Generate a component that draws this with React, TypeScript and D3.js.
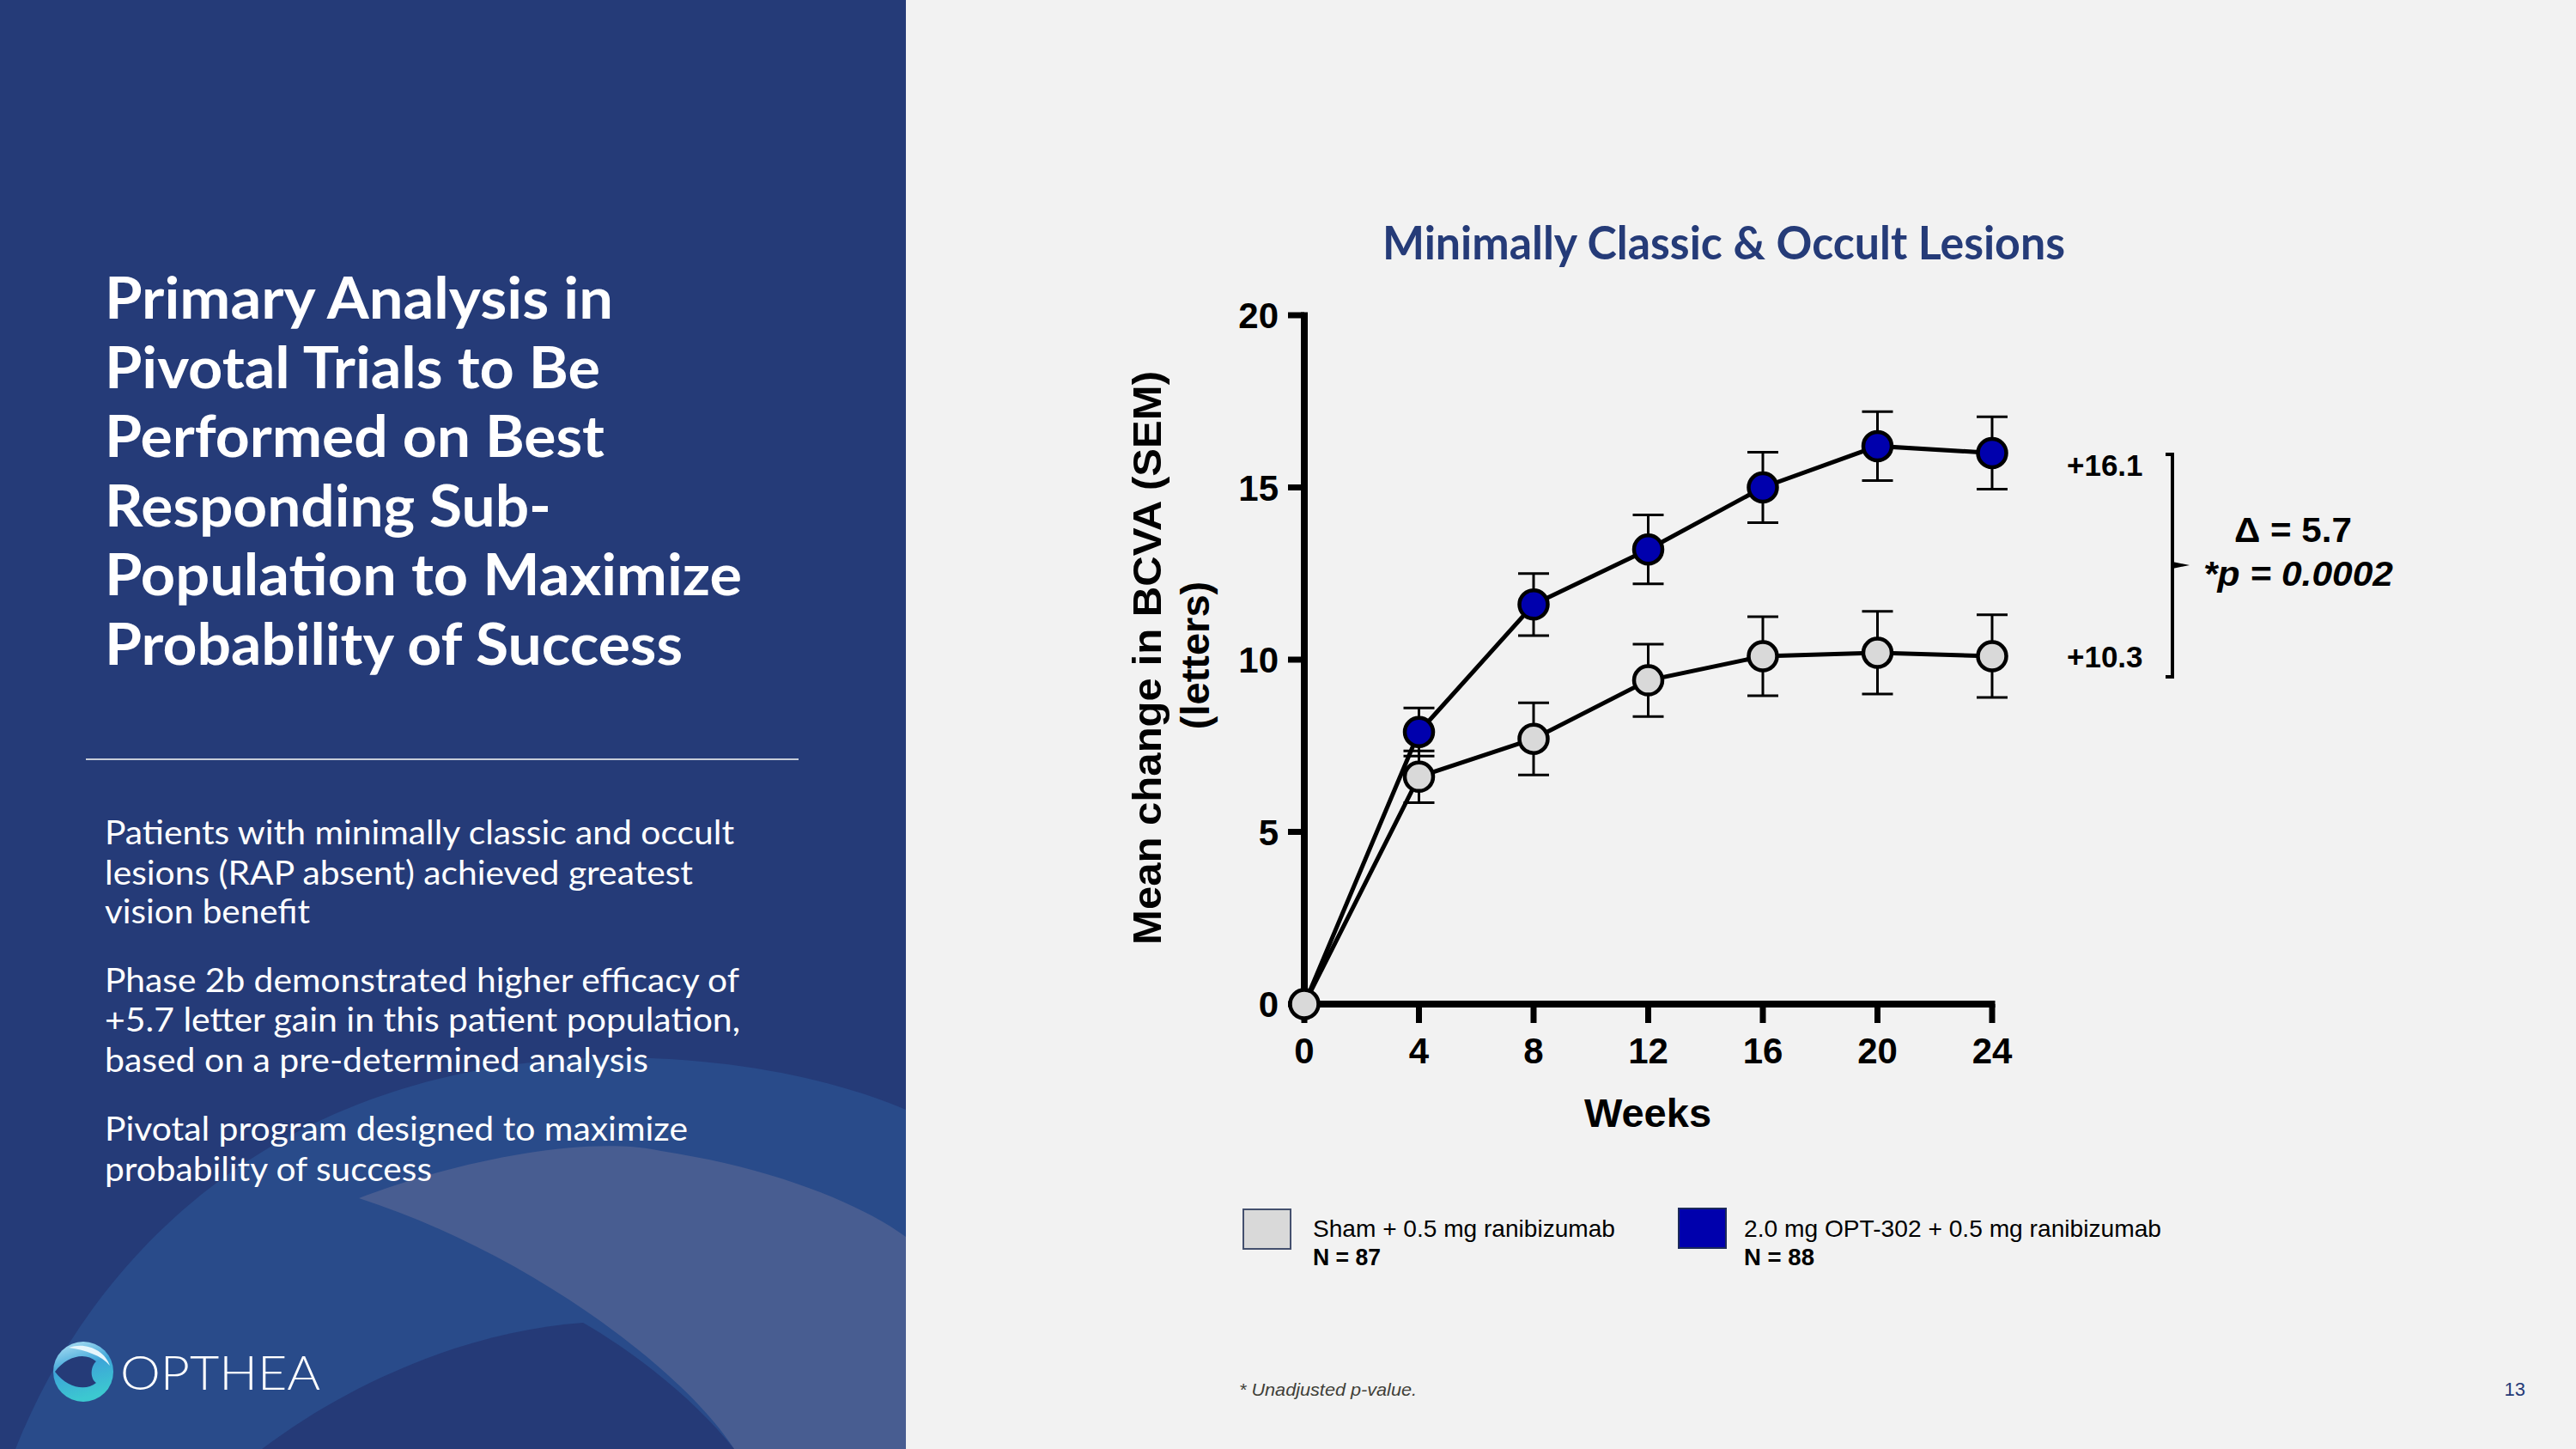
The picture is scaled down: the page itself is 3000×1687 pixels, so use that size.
import React from "react";
import * as d3 from "d3";

// ---- Data ----
const weeks = [0, 4, 8, 12, 16, 20, 24];
const shamMean = [0, 6.6, 7.7, 9.4, 10.1, 10.2, 10.1];
const shamSem = [0, 0.75, 1.05, 1.05, 1.15, 1.2, 1.2];
const optMean = [0, 7.9, 11.6, 13.2, 15.0, 16.2, 16.0];
const optSem = [0, 0.7, 0.9, 1.0, 1.02, 1.0, 1.05];
const yTicks = [0, 5, 10, 15, 20];
const xTicks = [0, 4, 8, 12, 16, 20, 24];
const finalLabels = ["+16.1", "+10.3"];
const seriesNames = ["Sham + 0.5 mg ranibizumab", "2.0 mg OPT-302 + 0.5 mg ranibizumab"];
const seriesN = ["N = 87", "N = 88"];

const titleLines = [
  "Primary Analysis in",
  "Pivotal Trials to Be",
  "Performed on Best",
  "Responding Sub-",
  "Population to Maximize",
  "Probability of Success",
];
const titleWidths = [592, 577, 582, 520, 742, 673];
const bodyLines = [
  "Patients with minimally classic and occult",
  "lesions (RAP absent) achieved greatest",
  "vision benefit",
  "Phase 2b demonstrated higher efficacy of",
  "+5.7 letter gain in this patient population,",
  "based on a pre-determined analysis",
  "Pivotal program designed to maximize",
  "probability of success",
];
const bodyBaselines = [983, 1030, 1075, 1155, 1201, 1248, 1328, 1375];
const bodyWidths = [733, 685, 239, 739, 740, 633, 679, 381];

const NAVY = "#253B78";
const BLUE = "#0000AD";
const GRAY = "#D9D9D9";

export default function App() {
  const x = d3.scaleLinear().domain([0, 24]).range([1519, 2320]);
  const y = d3.scaleLinear().domain([0, 20]).range([1169, 367]);

  const sham = weeks.map((w, i) => ({ w, m: shamMean[i], s: shamSem[i] }));
  const opt = weeks.map((w, i) => ({ w, m: optMean[i], s: optSem[i] }));
  const line = d3
    .line<{ w: number; m: number }>()
    .x((d) => x(d.w))
    .y((d) => y(d.m));

  const errBars = (data: { w: number; m: number; s: number }[], key: string) =>
    data
      .filter((d) => d.s > 0)
      .map((d, i) => (
        <g key={key + i} stroke="#000" strokeWidth={3}>
          <line x1={x(d.w)} x2={x(d.w)} y1={y(d.m + d.s)} y2={y(d.m - d.s)} />
          <line x1={x(d.w) - 18} x2={x(d.w) + 18} y1={y(d.m + d.s)} y2={y(d.m + d.s)} />
          <line x1={x(d.w) - 18} x2={x(d.w) + 18} y1={y(d.m - d.s)} y2={y(d.m - d.s)} />
        </g>
      ));

  const arial = "'Liberation Sans', Arial, Helvetica, sans-serif";
  const narrow = "'Liberation Sans Narrow', 'Arial Narrow', 'Liberation Sans', Arial, sans-serif";
  const cal = "Lato, 'Open Sans', 'Noto Sans', sans-serif";

  return (
    <svg
      width={3000}
      height={1687}
      viewBox="0 0 3000 1687"
      style={{ position: "absolute", left: 0, top: 0, display: "block" }}
    >
      <defs>
        <linearGradient id="logoGrad" x1="0" y1="0" x2="0.3" y2="1">
          <stop offset="0" stopColor="#B9E6F7" />
          <stop offset="0.5" stopColor="#3DA5D8" />
          <stop offset="1" stopColor="#3CC8D0" />
        </linearGradient>
      </defs>
      {/* Backgrounds */}
      <rect x={0} y={0} width={3000} height={1687} fill="#F2F2F2" />
      <rect x={0} y={0} width={1055} height={1687} fill={NAVY} />
      <path d="M 18,1687 C 100,1480 300,1250 680,1232 C 850,1226 980,1260 1055,1292 L 1055,1687 Z" fill="#294B8A" />
      <path d="M 418,1395 C 520,1355 680,1320 770,1340 C 900,1360 1000,1400 1055,1440 L 1055,1687 L 855,1687 C 800,1600 620,1460 418,1395 Z" fill="#485D91" />
      <path d="M 305,1687 C 420,1600 560,1548 679,1540 C 740,1575 810,1630 855,1687 Z" fill="#253A77" />

      {/* Left title */}
      {titleLines.map((t, i) => (
        <text
          key={"t" + i}
          x={122}
          y={371 + i * 80.5}
          fill="#FFFFFF"
          fontFamily={cal}
          fontWeight={700}
          fontSize={66}
          textLength={titleWidths[i]}
          lengthAdjust="spacingAndGlyphs"
        >
          {t}
        </text>
      ))}
      <line x1={100} x2={930} y1={884} y2={884} stroke="#C8CDD8" strokeWidth={2} />
      {bodyLines.map((t, i) => (
        <text
          key={"b" + i}
          x={122}
          y={bodyBaselines[i]}
          fill="#FFFFFF"
          fontFamily={cal}
          fontSize={38}
          textLength={bodyWidths[i]}
          lengthAdjust="spacingAndGlyphs"
        >
          {t}
        </text>
      ))}

      {/* Logo */}
      <g>
        <circle cx={97} cy={1597} r={35} fill="url(#logoGrad)" />
        <path d="M 64,1597 C 78,1578 100,1574 112,1585 C 106,1590 104,1604 112,1610 C 100,1620 78,1616 64,1597 Z" fill={NAVY} />
        <path d="M 80,1569 C 100,1562 122,1572 128,1590 C 118,1578 100,1572 80,1569 Z" fill="#E6F6FC" />
        <text
          x={140}
          y={1618}
          fill="#FFFFFF"
          fontFamily="Lato, 'Open Sans', sans-serif"
          fontWeight={300}
          fontSize={56}
          textLength={233}
          lengthAdjust="spacingAndGlyphs"
        >
          OPTHEA
        </text>
      </g>

      {/* Chart title */}
      <text
        x={1610}
        y={302}
        fill={NAVY}
        fontFamily={cal}
        fontWeight={700}
        fontSize={54}
        textLength={795}
        lengthAdjust="spacingAndGlyphs"
      >
        Minimally Classic &amp; Occult Lesions
      </text>

      {/* Axes */}
      <g stroke="#000">
        <line x1={x(0)} x2={x(0)} y1={y(20) - 3.5} y2={y(0) + 4} strokeWidth={8} />
        <line x1={x(0) - 4} x2={x(24) + 3.5} y1={y(0)} y2={y(0)} strokeWidth={8} />
        {yTicks.map((t) => (
          <line key={"yt" + t} x1={x(0) - 19} x2={x(0)} y1={y(t)} y2={y(t)} strokeWidth={7} />
        ))}
        {xTicks.map((t) => (
          <line key={"xt" + t} x1={x(t)} x2={x(t)} y1={y(0)} y2={y(0) + 22} strokeWidth={7} />
        ))}
      </g>
      {yTicks.map((t) => (
        <text
          key={"yl" + t}
          x={1489}
          y={y(t) + 15}
          textAnchor="end"
          fontFamily={arial}
          fontWeight={700}
          fontSize={42}
          fill="#000"
        >
          {t}
        </text>
      ))}
      {xTicks.map((t) => (
        <text
          key={"xl" + t}
          x={x(t)}
          y={1238}
          textAnchor="middle"
          fontFamily={arial}
          fontWeight={700}
          fontSize={42}
          fill="#000"
        >
          {t}
        </text>
      ))}
      <text x={1919} y={1312} textAnchor="middle" fontFamily={arial} fontWeight={700} fontSize={47} fill="#000">
        Weeks
      </text>
      <text
        transform="translate(1352,766) rotate(-90)"
        textAnchor="middle"
        fontFamily={arial}
        fontWeight={700}
        fontSize={47}
        fill="#000"
        textLength={668}
        lengthAdjust="spacingAndGlyphs"
      >
        Mean change in BCVA (SEM)
      </text>
      <text
        transform="translate(1408,763) rotate(-90)"
        textAnchor="middle"
        fontFamily={arial}
        fontWeight={700}
        fontSize={47}
        fill="#000"
      >
        (letters)
      </text>

      {/* Series lines */}
      <path d={line(sham) || ""} fill="none" stroke="#000" strokeWidth={5} />
      <path d={line(opt) || ""} fill="none" stroke="#000" strokeWidth={5} />
      {errBars(sham, "se")}
      {errBars(opt, "oe")}
      {sham.map((d, i) => (
        <circle key={"sc" + i} cx={x(d.w)} cy={y(d.m)} r={16.5} fill={GRAY} stroke="#000" strokeWidth={4.5} />
      ))}
      {opt
        .filter((d) => d.w > 0)
        .map((d, i) => (
          <circle key={"oc" + i} cx={x(d.w)} cy={y(d.m)} r={16.5} fill={BLUE} stroke="#000" strokeWidth={4.5} />
        ))}

      {/* Annotations */}
      <text x={2407} y={554} fontFamily={arial} fontWeight={700} fontSize={35} fill="#000">
        {finalLabels[0]}
      </text>
      <text x={2407} y={777} fontFamily={arial} fontWeight={700} fontSize={35} fill="#000">
        {finalLabels[1]}
      </text>
      <path d="M 2522,529 L 2530,529 L 2530,788 L 2522,788" fill="none" stroke="#000" strokeWidth={4} />
      <path d="M 2530,654 L 2550,658 L 2530,662 Z" fill="#000" />
      <text x={2602} y={631} fontFamily={arial} fontWeight={700} fontSize={41} fill="#000" textLength={137} lengthAdjust="spacingAndGlyphs">
        Δ = 5.7
      </text>
      <text x={2566} y={682} fontFamily={arial} fontWeight={700} fontStyle="italic" fontSize={41} fill="#000" textLength={221} lengthAdjust="spacingAndGlyphs">
        *p = 0.0002
      </text>

      {/* Legend */}
      <rect x={1448} y={1408} width={55} height={46} fill={GRAY} stroke="#44506E" strokeWidth={2} />
      <text x={1529} y={1440} fontFamily={narrow} fontSize={28} fill="#000" textLength={352} lengthAdjust="spacingAndGlyphs">
        {seriesNames[0]}
      </text>
      <text x={1529} y={1473} fontFamily={narrow} fontWeight={700} fontSize={28} fill="#000" textLength={79} lengthAdjust="spacingAndGlyphs">
        {seriesN[0]}
      </text>
      <rect x={1955} y={1407} width={55} height={46} fill={BLUE} stroke="#1C2A5A" strokeWidth={2} />
      <text x={2031} y={1440} fontFamily={narrow} fontSize={28} fill="#000" textLength={486} lengthAdjust="spacingAndGlyphs">
        {seriesNames[1]}
      </text>
      <text x={2031} y={1473} fontFamily={narrow} fontWeight={700} fontSize={28} fill="#000" textLength={82} lengthAdjust="spacingAndGlyphs">
        {seriesN[1]}
      </text>

      {/* Footer */}
      <text x={1443} y={1625} fontFamily={narrow} fontStyle="italic" fontSize={21} fill="#3F3F38" textLength={207} lengthAdjust="spacingAndGlyphs">
        * Unadjusted p-value.
      </text>
      <text x={2941} y={1625} textAnchor="end" fontFamily={narrow} fontSize={22} fill={NAVY}>
        13
      </text>
    </svg>
  );
}
